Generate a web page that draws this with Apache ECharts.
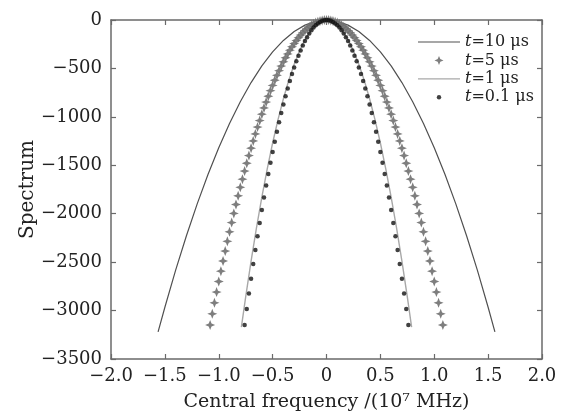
<!DOCTYPE html>
<html>
<head>
<meta charset="utf-8">
<script src="https://cdn.jsdelivr.net/npm/echarts@6/dist/echarts.min.js"></script>
<style>
html,body{margin:0;padding:0;background:#fff;}
#c{width:564px;height:413px;}
</style>
</head>
<body>
<div id="c"></div>
<script>
// Series names
const names = ['t=10 μs', 't=5 μs', 't=1 μs', 't=0.1 μs'];

// t = 10 μs (solid dark line)
const t10X = [-1.563,-1.5,-1.4,-1.3,-1.2,-1.1,-1.0,-0.9,-0.8,-0.7,-0.6,-0.5,-0.4,-0.3,-0.2,-0.1,0,0.1,0.2,0.3,0.4,0.5,0.6,0.7,0.8,0.9,1.0,1.1,1.2,1.3,1.4,1.5,1.563];
const t10Y = [-3220,-2966,-2583,-2227,-1898,-1595,-1318,-1068,-844,-646,-474,-330,-211,-119,-53,-13,0,-13,-53,-119,-211,-330,-474,-646,-844,-1068,-1318,-1595,-1898,-2227,-2583,-2966,-3220];

// t = 5 μs (star markers)
const t5X = [-1.08,-1.06,-1.04,-1.02,-1.00,-0.98,-0.96,-0.94,-0.92,-0.90,-0.88,-0.86,-0.84,-0.82,-0.80,-0.78,-0.76,-0.74,-0.72,-0.70,-0.68,-0.66,-0.64,-0.62,-0.60,-0.58,-0.56,-0.54,-0.52,-0.50,-0.48,-0.46,-0.44,-0.42,-0.40,-0.38,-0.36,-0.34,-0.32,-0.30,-0.28,-0.26,-0.24,-0.22,-0.20,-0.18,-0.16,-0.14,-0.12,-0.10,-0.08,-0.06,-0.04,-0.02,0,
  0.02,0.04,0.06,0.08,0.10,0.12,0.14,0.16,0.18,0.20,0.22,0.24,0.26,0.28,0.30,0.32,0.34,0.36,0.38,0.40,0.42,0.44,0.46,0.48,0.50,0.52,0.54,0.56,0.58,0.60,0.62,0.64,0.66,0.68,0.70,0.72,0.74,0.76,0.78,0.80,0.82,0.84,0.86,0.88,0.90,0.92,0.94,0.96,0.98,1.00,1.02,1.04,1.06,1.08];
const t5Y = [-3149,-3034,-2920,-2809,-2700,-2593,-2488,-2386,-2285,-2187,-2091,-1997,-1905,-1815,-1728,-1643,-1560,-1479,-1400,-1323,-1248,-1176,-1106,-1038,-972,-908,-847,-787,-730,-675,-622,-571,-523,-476,-432,-390,-350,-312,-276,-243,-212,-183,-156,-131,-108,-87,-69,-53,-39,-27,-17,-10,-4,-1,0,
  -1,-4,-10,-17,-27,-39,-53,-69,-87,-108,-131,-156,-183,-212,-243,-276,-312,-350,-390,-432,-476,-523,-571,-622,-675,-730,-787,-847,-908,-972,-1038,-1106,-1176,-1248,-1323,-1400,-1479,-1560,-1643,-1728,-1815,-1905,-1997,-2091,-2187,-2285,-2386,-2488,-2593,-2700,-2809,-2920,-3034,-3149];

// t = 1 μs (light grey line)
const t1X = [-0.79,-0.75,-0.7,-0.65,-0.6,-0.55,-0.5,-0.45,-0.4,-0.35,-0.3,-0.25,-0.2,-0.15,-0.1,-0.05,0,0.05,0.1,0.15,0.2,0.25,0.3,0.35,0.4,0.45,0.5,0.55,0.6,0.65,0.7,0.75,0.79];
const t1Y = [-3170,-2858,-2489,-2146,-1829,-1537,-1270,-1029,-813,-622,-457,-318,-203,-114,-51,-13,0,-13,-51,-114,-203,-318,-457,-622,-813,-1029,-1270,-1537,-1829,-2146,-2489,-2858,-3170];

// t = 0.1 μs (black dots)
const t01X = [-0.76,-0.74,-0.72,-0.70,-0.68,-0.66,-0.64,-0.62,-0.60,-0.58,-0.56,-0.54,-0.52,-0.50,-0.48,-0.46,-0.44,-0.42,-0.40,-0.38,-0.36,-0.34,-0.32,-0.30,-0.28,-0.26,-0.24,-0.22,-0.20,-0.18,-0.16,-0.14,-0.12,-0.10,-0.08,-0.06,-0.04,-0.02,0,
  0.02,0.04,0.06,0.08,0.10,0.12,0.14,0.16,0.18,0.20,0.22,0.24,0.26,0.28,0.30,0.32,0.34,0.36,0.38,0.40,0.42,0.44,0.46,0.48,0.50,0.52,0.54,0.56,0.58,0.60,0.62,0.64,0.66,0.68,0.70,0.72,0.74,0.76];
const t01Y = [-3148,-2984,-2825,-2671,-2520,-2374,-2232,-2095,-1962,-1833,-1709,-1589,-1474,-1363,-1256,-1153,-1055,-961,-872,-787,-706,-630,-558,-491,-427,-368,-314,-264,-218,-177,-140,-107,-78,-55,-35,-20,-9,-2,0,
  -2,-9,-20,-35,-55,-78,-107,-140,-177,-218,-264,-314,-368,-427,-491,-558,-630,-706,-787,-872,-961,-1055,-1153,-1256,-1363,-1474,-1589,-1709,-1833,-1962,-2095,-2232,-2374,-2520,-2671,-2825,-2984,-3148];

// Axis ticks
const xTicks = [-2.0,-1.5,-1.0,-0.5,0,0.5,1.0,1.5,2.0];
const yTicks = [-3500,-3000,-2500,-2000,-1500,-1000,-500,0];

const pairs = (xs, ys) => xs.map((x, i) => [x, ys[i]]);
const FONT = 'DejaVu Serif';
const TXT = '#222';
const AX = '#6a6a6a';
const starPath = 'path://M0,-10 L2.8,-2.8 L10,0 L2.8,2.8 L0,10 L-2.8,2.8 L-10,0 L-2.8,-2.8 Z';
// legend icons: each path spans the same 42x10 box so all entries line up
const iconLine = 'path://M0,0 M42,10 M0,4.4 L42,4.4 L42,5.6 L0,5.6 Z';
const iconStar = 'path://M0,0 M42,10 M21,0.5 L22.3,3.7 L25.5,5 L22.3,6.3 L21,9.5 L19.7,6.3 L16.5,5 L19.7,3.7 Z';
const iconDot = 'path://M0,0 M42,10 M18.8,5 A2.2,2.2 0 1 1 23.2,5 A2.2,2.2 0 1 1 18.8,5 Z';
const minus = s => String(s).replace('-', '\u2212');

const chart = echarts.init(document.getElementById('c'), null, {renderer: 'canvas'});

const legendFmt = n => '{i|' + n.slice(0, 1) + '}{n|' + n.slice(1) + '}';

const axisCommon = {
  type: 'value', min: -2, max: 2, interval: 0.5,
  axisLine: {show: true, onZero: false, lineStyle: {color: AX, width: 1.5}},
  axisTick: {show: true, inside: true, length: 5, lineStyle: {color: AX, width: 1.2}},
  splitLine: {show: false}
};
const yCommon = {
  type: 'value', min: -3500, max: 0, interval: 500,
  axisLine: {show: true, onZero: false, lineStyle: {color: AX, width: 1.5}},
  axisTick: {show: true, inside: true, length: 5, lineStyle: {color: AX, width: 1.2}},
  splitLine: {show: false}
};

chart.setOption({
  animation: false,
  backgroundColor: '#ffffff',
  grid: {left: 111, top: 20, right: 22, bottom: 54, containLabel: false, outerBoundsMode: 'none'},
  legend: {
    orient: 'vertical', left: 418, top: 33, padding: 0, itemGap: 0.4,
    itemWidth: 42, itemHeight: 10, selectedMode: false,
    data: [
      {name: names[0], icon: iconLine},
      {name: names[1], icon: iconStar},
      {name: names[2], icon: iconLine},
      {name: names[3], icon: iconDot}
    ],
    formatter: legendFmt,
    textStyle: {
      fontFamily: FONT, fontSize: 16, color: TXT, lineHeight: 18,
      rich: {
        i: {fontFamily: FONT, fontSize: 16, fontStyle: 'italic', color: TXT, lineHeight: 18},
        n: {fontFamily: FONT, fontSize: 16, color: TXT, lineHeight: 18}
      }
    }
  },
  xAxis: [
    Object.assign({}, axisCommon, {
      position: 'bottom',
      name: 'Central frequency /(10\u2077 MHz)',
      nameLocation: 'middle', nameGap: 34, nameMoveOverlap: false,
      nameTextStyle: {fontFamily: FONT, fontSize: 19, color: TXT},
      axisLabel: {
        margin: 8, fontFamily: FONT, fontSize: 18, color: TXT,
        formatter: v => {
          const t = xTicks.find(k => Math.abs(k - v) < 1e-9);
          const val = t === undefined ? v : t;
          return val === 0 ? '0' : minus(val.toFixed(1));
        }
      }
    }),
    Object.assign({}, axisCommon, {position: 'top', axisLabel: {show: false}})
  ],
  yAxis: [
    Object.assign({}, yCommon, {
      position: 'left',
      name: 'Spectrum', nameLocation: 'middle', nameGap: 73, nameRotate: 90, nameMoveOverlap: false,
      nameTextStyle: {fontFamily: FONT, fontSize: 20, color: TXT},
      axisLabel: {
        margin: 9, fontFamily: FONT, fontSize: 18, color: TXT,
        formatter: v => minus(yTicks.includes(v) ? v : v)
      }
    }),
    Object.assign({}, yCommon, {position: 'right', axisLabel: {show: false}})
  ],
  series: [
    {
      name: names[0], type: 'line', xAxisIndex: 0, yAxisIndex: 0,
      data: pairs(t10X, t10Y), symbol: 'none', showSymbol: false,
      lineStyle: {color: '#505050', width: 1.2}, itemStyle: {color: '#505050'}, z: 2
    },
    {
      name: names[1], type: 'scatter', xAxisIndex: 0, yAxisIndex: 0,
      data: pairs(t5X, t5Y), symbol: starPath, symbolSize: 10,
      itemStyle: {color: '#707070', opacity: 0.9}, z: 3
    },
    {
      name: names[2], type: 'line', xAxisIndex: 0, yAxisIndex: 0,
      data: pairs(t1X, t1Y), symbol: 'none', showSymbol: false,
      lineStyle: {color: '#a8a8a8', width: 1.4}, itemStyle: {color: '#a8a8a8'}, z: 4
    },
    {
      name: names[3], type: 'scatter', xAxisIndex: 0, yAxisIndex: 0,
      data: pairs(t01X, t01Y), symbol: 'circle', symbolSize: 4.5,
      itemStyle: {color: '#111'}, z: 5
    }
  ]
});
</script>
</body>
</html>
